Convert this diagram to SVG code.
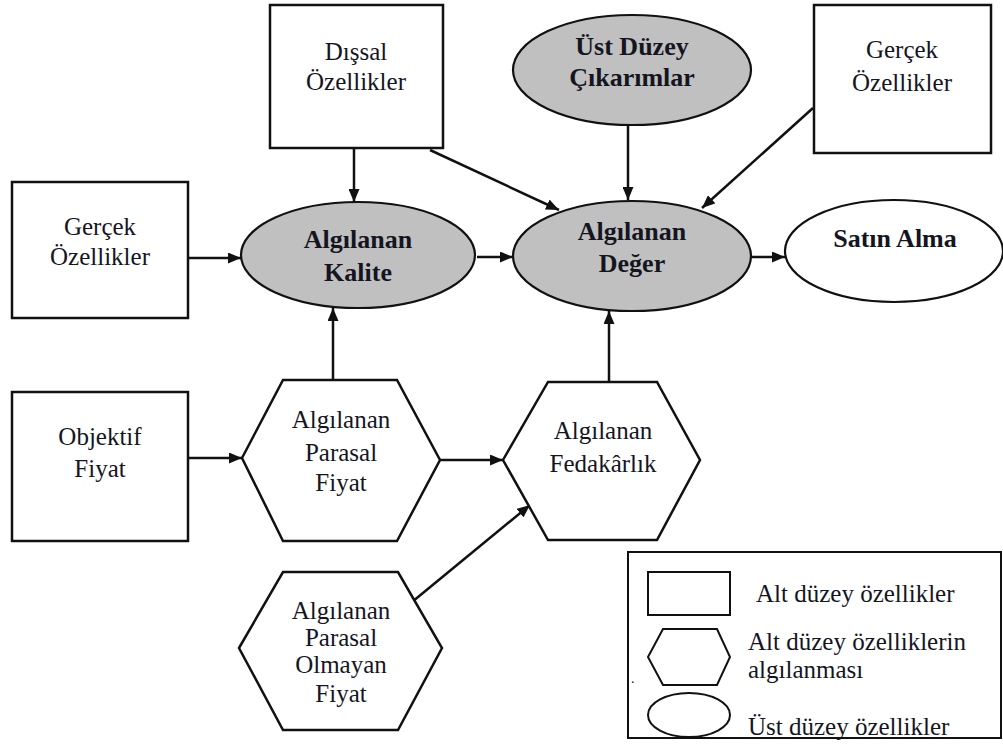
<svg xmlns="http://www.w3.org/2000/svg" width="1003" height="751" viewBox="0 0 1003 751">
  <style>
    .box { fill: #ffffff; stroke: #111; stroke-width: 2.5; }
    .oval { fill: #c0c0c0; stroke: #111; stroke-width: 2.2; }
    .oval-w { fill: #ffffff; stroke: #111; stroke-width: 2.2; }
    .hex { fill: #ffffff; stroke: #111; stroke-width: 2.5; stroke-linejoin: miter; }
    text { font-family: 'Liberation Serif', 'DejaVu Serif', serif; }
    .t { font-size: 25px; fill: #15151f; text-anchor: middle; }
    .tb { font-size: 26px; font-weight: bold; fill: #15151f; text-anchor: middle; }
    .lg { font-size: 25px; fill: #15151f; }
    .conn { stroke: #111; stroke-width: 2.5; fill: none; marker-end: url(#arr); }
  </style>
  <defs>
    <marker id="arr" viewBox="0 0 13 11" refX="13" refY="5.5" markerWidth="13" markerHeight="11" markerUnits="userSpaceOnUse" orient="auto">
      <path d="M0,0 L13,5.5 L0,11 z" fill="#111"/>
    </marker>
  </defs>
  <rect width="1003" height="751" fill="#ffffff"/>

  <!-- connectors -->
  <g id="connectors">
    <path class="conn" d="M354,148 L354,202"/>
    <path class="conn" d="M430,150 L559,210"/>
    <path class="conn" d="M628,126 L628,200"/>
    <path class="conn" d="M813,108 L702,208"/>
    <path class="conn" d="M188,258 L241,258"/>
    <path class="conn" d="M477,257 L513,257"/>
    <path class="conn" d="M751,257 L785,257"/>
    <path class="conn" d="M188,458 L242,458"/>
    <path class="conn" d="M440,460 L503,460"/>
    <path class="conn" d="M333,380 L333,308"/>
    <path class="conn" d="M609,382 L609,311"/>
    <path class="conn" d="M412,602 L530,505"/>
  </g>

  <!-- low-level attributes (rectangles) -->
  <g id="disal-ozellikler">
    <rect class="box" x="270" y="5" width="173" height="143"/>
    <text class="t" x="356" y="60">Dışsal</text>
    <text class="t" x="356" y="90">Özellikler</text>
  </g>
  <g id="gercek-ozellikler-sag">
    <rect class="box" x="814" y="5" width="177" height="148"/>
    <text class="t" x="902" y="58">Gerçek</text>
    <text class="t" x="902" y="91">Özellikler</text>
  </g>
  <g id="gercek-ozellikler-sol">
    <rect class="box" x="12" y="182" width="176" height="136"/>
    <text class="t" x="100" y="235">Gerçek</text>
    <text class="t" x="100" y="265">Özellikler</text>
  </g>
  <g id="objektif-fiyat">
    <rect class="box" x="12" y="392" width="176" height="149"/>
    <text class="t" x="100" y="445">Objektif</text>
    <text class="t" x="100" y="477">Fiyat</text>
  </g>

  <!-- high-level attributes (ellipses) -->
  <g id="ust-duzey-cikarimlar">
    <ellipse class="oval" cx="632" cy="70" rx="119" ry="55"/>
    <text class="tb" x="632" y="55">Üst Düzey</text>
    <text class="tb" x="632" y="86">Çıkarımlar</text>
  </g>
  <g id="algilanan-kalite">
    <ellipse class="oval" cx="358" cy="255" rx="117" ry="53"/>
    <text class="tb" x="358" y="248">Algılanan</text>
    <text class="tb" x="358" y="281">Kalite</text>
  </g>
  <g id="algilanan-deger">
    <ellipse class="oval" cx="632" cy="256" rx="119" ry="55"/>
    <text class="tb" x="632" y="240">Algılanan</text>
    <text class="tb" x="632" y="272">Değer</text>
  </g>
  <g id="satin-alma">
    <ellipse class="oval-w" cx="894" cy="251" rx="109" ry="51"/>
    <text class="tb" x="895" y="247">Satın Alma</text>
  </g>

  <!-- perceptions of low-level attributes (hexagons) -->
  <g id="algilanan-parasal-fiyat">
    <polygon class="hex" points="242,458 283,380 397,380 440,460 397,541 283,541"/>
    <text class="t" x="341" y="428">Algılanan</text>
    <text class="t" x="341" y="461">Parasal</text>
    <text class="t" x="341" y="491">Fiyat</text>
  </g>
  <g id="algilanan-fedakarlik">
    <polygon class="hex" points="503,460 548,382 657,382 700,460 657,540 548,540"/>
    <text class="t" x="603" y="439">Algılanan</text>
    <text class="t" x="603" y="472">Fedakârlık</text>
  </g>
  <g id="algilanan-parasal-olmayan-fiyat">
    <polygon class="hex" points="239,648 283,572 398,572 442,648 398,730 283,730"/>
    <text class="t" x="341" y="619">Algılanan</text>
    <text class="t" x="341" y="646">Parasal</text>
    <text class="t" x="341" y="673">Olmayan</text>
    <text class="t" x="341" y="702">Fiyat</text>
  </g>

  <!-- legend -->
  <g id="legend">
    <rect x="628" y="552" width="373" height="186" fill="#ffffff" stroke="#111" stroke-width="2"/>
    <rect x="648" y="572" width="82" height="43" fill="#ffffff" stroke="#111" stroke-width="2"/>
    <polygon points="648,657 663,629 717,629 730,657 717,685 663,685" fill="#ffffff" stroke="#111" stroke-width="2"/>
    <ellipse cx="689" cy="715" rx="41" ry="22" fill="#ffffff" stroke="#111" stroke-width="2"/>
    <text class="lg" x="756" y="602">Alt düzey özellikler</text>
    <text class="lg" x="748" y="650">Alt düzey özelliklerin</text>
    <text class="lg" x="748" y="678">algılanması</text>
    <text class="lg" x="748" y="735">Üst düzey özellikler</text>
    <text class="lg" x="631" y="683" style="font-size:14px">.</text>
  </g>
</svg>
